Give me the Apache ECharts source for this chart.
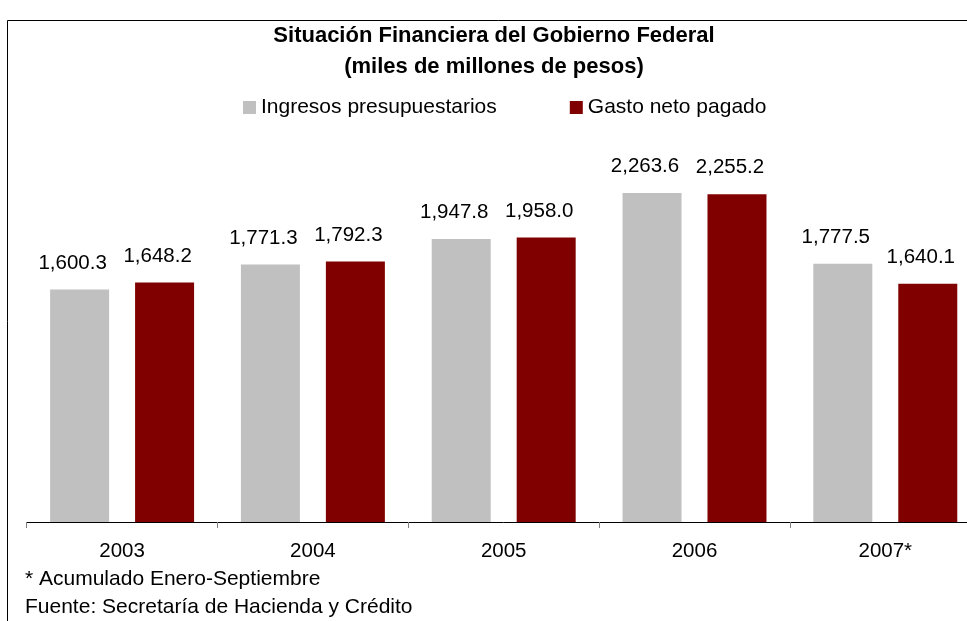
<!DOCTYPE html>
<html>
<head>
<meta charset="utf-8">
<script src="https://cdn.jsdelivr.net/npm/echarts@6/dist/echarts.min.js"></script>
<style>
  html, body { margin: 0; padding: 0; background: #fff; overflow: hidden; }
  /* the original chart runs past the right edge of the picture */
  #chart { width: 988px; height: 621px; }
</style>
</head>
<body>
<div id="chart"></div>
<script>
// data
const years = ['2003', '2004', '2005', '2006', '2007*'];
const ingresos = [1600.3, 1771.3, 1947.8, 2263.6, 1777.5];
const gasto = [1648.2, 1792.3, 1958.0, 2255.2, 1640.1];
const seriesNames = ['Ingresos presupuestarios', 'Gasto neto pagado'];
const notes = ['* Acumulado Enero-Septiembre', 'Fuente: Secretaría de Hacienda y Crédito'];

const FONT = '"Liberation Sans", Arial, sans-serif';
const fmt = v => v.toLocaleString('en-US', { minimumFractionDigits: 1, maximumFractionDigits: 1 });

const labelStyle = {
  show: true,
  position: 'top',
  distance: 16,
  offset: [-7, 0],
  color: '#000',
  fontSize: 20.5,
  fontFamily: FONT,
  formatter: p => fmt(p.value),
};

const chart = echarts.init(document.getElementById('chart'));
chart.setOption({
  animation: false,
  backgroundColor: '#fff',
  textStyle: { fontFamily: FONT },
  title: {
    text: 'Situación Financiera del Gobierno Federal\n(miles de millones de pesos)',
    left: 'center',
    top: 15,
    textStyle: { fontSize: 22, fontWeight: 'bold', color: '#000', lineHeight: 31, fontFamily: FONT },
  },
  legend: {
    data: seriesNames,
    left: 238,
    top: 92,
    icon: 'rect',
    itemWidth: 13,
    itemHeight: 13,
    itemGap: 73,
    textStyle: { fontSize: 21, color: '#000', fontFamily: FONT },
  },
  grid: { left: 26.7, right: 7.3, top: 158.7, bottom: 99, containLabel: false },
  xAxis: {
    type: 'category',
    data: years,
    axisLine: { lineStyle: { color: '#000', width: 1 } },
    axisTick: { show: true, length: 6, lineStyle: { color: '#808080' } },
    axisLabel: { color: '#000', fontSize: 20.5, margin: 19, fontFamily: FONT },
  },
  yAxis: {
    type: 'value',
    min: 0,
    max: 2500,
    show: false,
    splitLine: { show: false },
  },
  series: [
    {
      name: seriesNames[0],
      type: 'bar',
      data: ingresos,
      barWidth: 59,
      barGap: '44%',
      itemStyle: { color: '#C0C0C0' },
      label: labelStyle,
    },
    {
      name: seriesNames[1],
      type: 'bar',
      data: gasto,
      barWidth: 59,
      itemStyle: { color: '#800000' },
      label: labelStyle,
    },
  ],
  graphic: [
    {
      type: 'rect',
      shape: { x: 7.5, y: 20.5, width: 1000, height: 700 },
      style: { fill: 'none', stroke: '#000', lineWidth: 1 },
      silent: true,
      z: -1,
    },
    {
      type: 'text',
      style: { x: 25, y: 579, text: notes[0], fontSize: 21, fill: '#000', fontFamily: FONT, verticalAlign: 'middle' },
    },
    {
      type: 'text',
      style: { x: 25, y: 607.5, text: notes[1], fontSize: 21, fill: '#000', fontFamily: FONT, verticalAlign: 'middle' },
    },
  ],
});
</script>
</body>
</html>
